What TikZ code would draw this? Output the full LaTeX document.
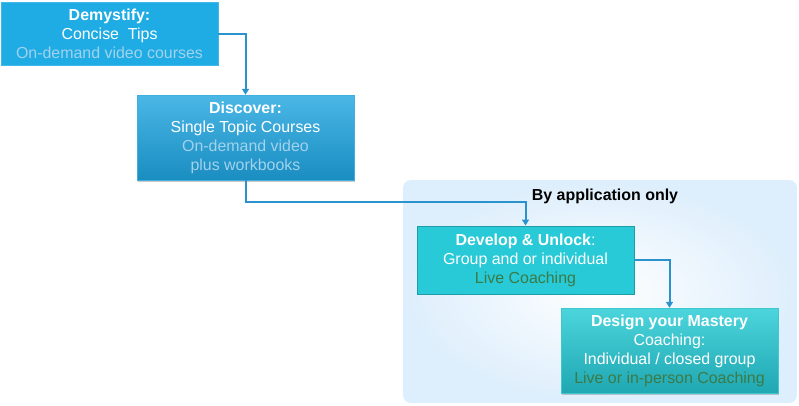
\documentclass[tikz,border=0pt]{standalone}
\usepackage{fontspec}
\setmainfont{Liberation Sans}
\usetikzlibrary{arrows.meta,shadows,shapes.misc}
\definecolor{boxA}{HTML}{1FACE4}
\definecolor{boxBt}{HTML}{4AB7E6}
\definecolor{boxBb}{HTML}{1A8DC1}
\definecolor{boxC}{HTML}{27CAD6}
\definecolor{boxCe}{HTML}{1E9CA8}
\definecolor{boxDt}{HTML}{4DD5DD}
\definecolor{boxDb}{HTML}{1FA7B2}
\definecolor{paleT}{HTML}{A2D2EC}
\definecolor{greenT}{HTML}{3C7A46}
\definecolor{linkC}{HTML}{2A92CC}
\definecolor{panelO}{HTML}{DDEEFC}
\tikzset{
  stagebox/.style={rectangle, align=center, text=white, inner sep=0pt,
    font=\fontsize{16}{19}\selectfont, minimum width=217bp},
  link/.style={draw=linkC, line width=2bp, -{Triangle[width=7bp,length=6bp]}},
  softshadow/.style={drop shadow={opacity=0.35, shadow xshift=1bp, shadow yshift=-1.5bp, fill=black!60}}
}
\begin{document}
\begin{tikzpicture}[x=1bp,y=-1bp]
\useasboundingbox (0,0) rectangle (799,405);
% panel
\node (panel) [rectangle, rounded corners=8bp, inner sep=0pt, minimum width=394bp, minimum height=223bp,
  inner color=white, outer color=panelO, shading=radial] at (600,291.5) {};
\node (title) [font=\fontsize{16}{19}\selectfont\bfseries] at (605,196) {By application only};
% boxes
\node (d1) [stagebox, fill=boxA, draw=boxA!85!white, minimum height=63bp] at (109.5,34)
  {\textbf{Demystify:}\\Concise\ \ Tips\\\textcolor{paleT}{On-demand video courses}};
\node (d2) [stagebox, top color=boxBt, bottom color=boxBb, draw=boxBt!80!boxBb, minimum height=85bp, softshadow] at (245.5,137.5)
  {\textbf{Discover:}\\Single Topic Courses\\\textcolor{paleT}{On-demand video}\\\textcolor{paleT}{plus workbooks}};
\node (d3) [stagebox, fill=boxC, draw=boxCe, line width=1bp, minimum height=68bp] at (525.5,260)
  {\textbf{Develop \& Unlock}:\\Group and or individual\\\textcolor{greenT}{Live Coaching}};
\node (d4) [stagebox, top color=boxDt, bottom color=boxDb, draw=boxDt!70!boxDb, minimum height=85bp, softshadow] at (669.5,350.5)
  {\textbf{Design your Mastery}\\Coaching:\\Individual / closed group\\\textcolor{greenT}{Live or in-person Coaching}};
% connectors
\draw[link] (d1.east) -| (d2.north);
\draw[link] (d2.south) -- ++(0,22) -| (d3.north);
\draw[link] (d3.east) -| (d4.north);
\end{tikzpicture}
\end{document}
